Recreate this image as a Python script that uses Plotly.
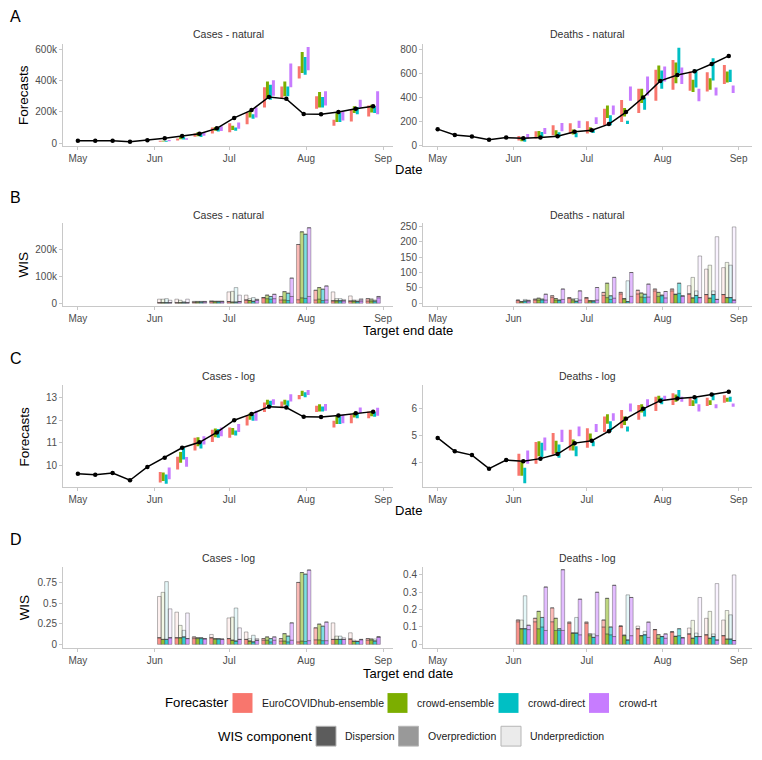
import plotly.graph_objects as go

# ---------------- data ----------------
obs_dates = ["2021-05-01", "2021-05-08", "2021-05-15", "2021-05-22", "2021-05-29",
             "2021-06-05", "2021-06-12", "2021-06-19", "2021-06-26", "2021-07-03",
             "2021-07-10", "2021-07-17", "2021-07-24", "2021-07-31", "2021-08-07",
             "2021-08-14", "2021-08-21", "2021-08-28"]
target_dates = obs_dates[5:]

forecasters = ["EuroCOVIDhub-ensemble", "crowd-ensemble", "crowd-direct", "crowd-rt"]
colors = ["#F8766D", "#7CAE00", "#00BFC4", "#C77CFF"]
rgb = [(248, 118, 109), (124, 174, 0), (0, 191, 196), (199, 124, 255)]

# observed values
obs_cases_k = [15, 15, 15, 10, 19, 31, 46, 61, 95, 162, 212, 296, 284, 187, 185, 200, 221, 237]
obs_deaths = [135, 85, 74, 45, 64, 59, 65, 75, 113, 126, 177, 278, 400, 540, 590, 620, 682, 750]
obs_cases_log = [9.63, 9.58, 9.66, 9.34, 9.93, 10.34, 10.78, 11.02, 11.46, 12.0, 12.28, 12.6,
                 12.56, 12.15, 12.14, 12.21, 12.31, 12.38]
obs_deaths_log = [4.91, 4.42, 4.28, 3.78, 4.10, 4.05, 4.15, 4.32, 4.72, 4.81, 5.16, 5.62,
                  5.98, 6.28, 6.36, 6.41, 6.51, 6.61]

# forecast intervals (lower / upper), cases in thousands
cases_lo_k = {
    "EuroCOVIDhub-ensemble": [10, 18, 42, 62, 70, 122, 229, 289, 414, 221, 111, 139, 171],
    "crowd-ensemble":        [11, 25, 45, 80, 85, 165, 289, 300, 450, 229, 135, 193, 197],
    "crowd-direct":          [10, 24, 40, 75, 80, 156, 279, 300, 439, 229, 135, 186, 193],
    "crowd-rt":              [12, 22, 48, 78, 92, 165, 304, 358, 467, 242, 146, 229, 186],
}
cases_hi_k = {
    "EuroCOVIDhub-ensemble": [16, 30, 62, 100, 128, 197, 358, 364, 493, 300, 150, 214, 242],
    "crowd-ensemble":        [16, 40, 70, 103, 111, 204, 396, 396, 585, 328, 193, 236, 246],
    "crowd-direct":          [15, 40, 65, 100, 100, 186, 375, 364, 553, 296, 193, 232, 236],
    "crowd-rt":              [20, 32, 72, 108, 133, 229, 403, 510, 617, 332, 204, 279, 332],
}
deaths_lo = {
    "EuroCOVIDhub-ensemble": [39, 56, 84, 95, 98, 167, 195, 270, 373, 465, 457, 451, 513],
    "crowd-ensemble":        [33, 61, 75, 89, 111, 228, 242, 354, 535, 521, 446, 465, 527],
    "crowd-direct":          [28, 61, 67, 67, 103, 167, 178, 298, 474, 605, 485, 543, 530],
    "crowd-rt":              [56, 95, 117, 145, 178, 256, 373, 418, 535, 513, 368, 418, 438],
}
deaths_hi = {
    "EuroCOVIDhub-ensemble": [78, 117, 167, 184, 201, 306, 379, 473, 633, 716, 619, 613, 674],
    "crowd-ensemble":        [67, 120, 125, 131, 150, 334, 312, 473, 669, 694, 549, 563, 619],
    "crowd-direct":          [56, 111, 109, 103, 131, 251, 206, 396, 627, 819, 633, 730, 633],
    "crowd-rt":              [95, 145, 187, 206, 234, 334, 493, 577, 660, 652, 474, 485, 502],
}
cases_log_lo = {
    "EuroCOVIDhub-ensemble": [9.24, 9.82, 10.66, 11.04, 11.22, 11.77, 12.36, 12.53, 12.93, 12.36, 11.68, 11.87, 12.09],
    "crowd-ensemble":        [9.31, 10.12, 10.85, 11.24, 11.36, 12.02, 12.68, 12.68, 13.07, 12.39, 11.83, 12.12, 12.17],
    "crowd-direct":          [9.19, 10.26, 10.75, 11.22, 11.32, 11.98, 12.61, 12.61, 13.02, 12.39, 11.83, 12.09, 12.15],
    "crowd-rt":              [9.39, 9.94, 10.92, 11.29, 11.48, 11.98, 12.68, 12.83, 13.12, 12.42, 11.87, 12.31, 12.20],
}
cases_log_hi = {
    "EuroCOVIDhub-ensemble": [9.71, 10.38, 11.22, 11.58, 11.68, 12.20, 12.78, 12.83, 13.12, 12.64, 11.98, 12.24, 12.39],
    "crowd-ensemble":        [9.68, 10.59, 11.24, 11.63, 11.65, 12.31, 12.91, 12.91, 13.31, 12.71, 12.21, 12.34, 12.39],
    "crowd-direct":          [9.60, 10.78, 11.07, 11.61, 11.54, 12.24, 12.86, 12.87, 13.24, 12.61, 12.17, 12.31, 12.36],
    "crowd-rt":              [9.90, 10.37, 11.29, 11.68, 11.83, 12.42, 12.93, 13.15, 13.34, 12.72, 12.24, 12.56, 12.55],
}
deaths_log_lo = {
    "EuroCOVIDhub-ensemble": [3.52, 3.96, 4.30, 4.45, 4.55, 5.13, 5.27, 5.58, 5.90, 6.12, 6.08, 6.08, 6.20],
    "crowd-ensemble":        [3.52, 4.24, 4.36, 4.45, 4.79, 5.43, 5.39, 5.85, 6.24, 6.24, 6.08, 6.12, 6.24],
    "crowd-direct":          [3.25, 4.21, 4.18, 4.24, 4.61, 5.15, 5.15, 5.70, 6.15, 6.36, 6.18, 6.30, 6.24],
    "crowd-rt":              [3.96, 4.45, 4.76, 4.97, 5.13, 5.54, 5.88, 6.06, 6.30, 6.24, 5.88, 6.00, 6.06],
}
deaths_log_hi = {
    "EuroCOVIDhub-ensemble": [4.33, 4.76, 5.09, 5.21, 5.27, 5.70, 5.94, 6.12, 6.42, 6.55, 6.39, 6.39, 6.48],
    "crowd-ensemble":        [4.06, 4.79, 4.81, 4.85, 5.07, 5.78, 5.70, 6.15, 6.46, 6.51, 6.30, 6.30, 6.39],
    "crowd-direct":          [3.82, 4.73, 4.67, 4.61, 4.79, 5.52, 5.33, 6.00, 6.39, 6.67, 6.39, 6.55, 6.42],
    "crowd-rt":              [4.45, 4.93, 5.21, 5.33, 5.42, 5.82, 6.18, 6.33, 6.46, 6.42, 6.15, 6.15, 6.18],
}

# WIS components (dispersion / overprediction / underprediction)
wis_cases_disp_k = {
    "EuroCOVIDhub-ensemble": [2, 2, 4, 6, 6, 12, 20, 12, 13, 12, 9, 8, 8],
    "crowd-ensemble":        [2, 2, 4, 5, 4, 10, 17, 12, 20, 15, 9, 8, 8],
    "crowd-direct":          [2, 2, 4, 5, 4, 7, 15, 10, 18, 10, 9, 6, 6],
    "crowd-rt":              [2, 2, 4, 5, 6, 12, 17, 25, 25, 12, 9, 8, 20],
}
wis_cases_over_k = {
    "EuroCOVIDhub-ensemble": [0, 0, 0, 0, 0, 0, 1, 13, 205, 36, 0, 0, 9],
    "crowd-ensemble":        [0, 0, 1, 2, 0, 0, 13, 31, 245, 43, 0, 0, 5],
    "crowd-direct":          [0, 0, 1, 2, 0, 0, 10, 27, 238, 42, 0, 0, 3],
    "crowd-rt":              [0, 0, 2, 2, 0, 0, 16, 68, 255, 52, 0, 5, 5],
}
wis_cases_under_k = {
    "EuroCOVIDhub-ensemble": [13, 13, 3, 4, 36, 18, 0, 0, 0, 0, 33, 19, 0],
    "crowd-ensemble":        [13, 9, 2, 0, 40, 7, 0, 0, 0, 0, 8, 4, 4],
    "crowd-direct":          [15, 4, 2, 0, 54, 14, 0, 0, 0, 0, 8, 5, 3],
    "crowd-rt":              [9, 13, 1, 0, 24, 3, 0, 0, 0, 0, 5, 4, 0],
}
wis_deaths_disp = {
    "EuroCOVIDhub-ensemble": [8, 10, 18, 15, 16, 25, 30, 30, 40, 40, 30, 28, 28],
    "crowd-ensemble":        [4, 10, 10, 8, 7, 18, 13, 20, 22, 28, 17, 16, 18],
    "crowd-direct":          [7, 10, 8, 6, 5, 12, 5, 18, 24, 32, 25, 28, 18],
    "crowd-rt":              [6, 10, 12, 10, 10, 16, 22, 20, 17, 22, 18, 12, 10],
}
wis_deaths_over = {
    "EuroCOVIDhub-ensemble": [2, 3, 6, 3, 2, 10, 5, 12, 6, 6, 0, 0, 0],
    "crowd-ensemble":        [1, 6, 5, 5, 1, 47, 2, 13, 13, 1, 0, 0, 0],
    "crowd-direct":          [0, 3, 2, 0, 3, 12, 0, 11, 2, 33, 0, 0, 0],
    "crowd-rt":              [3, 19, 34, 30, 41, 68, 78, 42, 21, 2, 0, 0, 0],
}
wis_deaths_under = {
    "EuroCOVIDhub-ensemble": [0, 0, 0, 0, 0, 0, 0, 0, 0, 0, 27, 83, 88],
    "crowd-ensemble":        [0, 0, 0, 0, 0, 0, 0, 0, 0, 0, 67, 108, 115],
    "crowd-direct":          [5, 0, 0, 9, 0, 0, 68, 0, 0, 0, 15, 12, 106],
    "crowd-rt":              [0, 0, 0, 0, 0, 0, 0, 0, 0, 0, 136, 205, 239],
}
wis_cases_log_disp = {
    "EuroCOVIDhub-ensemble": [0.08, 0.08, 0.07, 0.08, 0.07, 0.06, 0.05, 0.04, 0.03, 0.055, 0.06, 0.065, 0.05],
    "crowd-ensemble":        [0.06, 0.08, 0.07, 0.06, 0.05, 0.04, 0.05, 0.04, 0.04, 0.055, 0.06, 0.035, 0.05],
    "crowd-direct":          [0.06, 0.09, 0.07, 0.06, 0.04, 0.03, 0.03, 0.03, 0.035, 0.045, 0.06, 0.035, 0.035],
    "crowd-rt":              [0.08, 0.07, 0.065, 0.06, 0.06, 0.05, 0.05, 0.05, 0.045, 0.045, 0.06, 0.055, 0.09],
}
wis_cases_log_over = {
    "EuroCOVIDhub-ensemble": [0, 0, 0.02, 0, 0, 0, 0.02, 0.03, 0.72, 0.145, 0, 0, 0.02],
    "crowd-ensemble":        [0, 0, 0.01, 0.01, 0, 0, 0.04, 0.09, 0.83, 0.19, 0, 0, 0.015],
    "crowd-direct":          [0, 0, 0.01, 0.01, 0, 0, 0.04, 0.07, 0.815, 0.175, 0, 0, 0.01],
    "crowd-rt":              [0, 0, 0.005, 0.005, 0, 0, 0.04, 0.21, 0.855, 0.225, 0, 0.005, 0],
}
wis_cases_log_under = {
    "EuroCOVIDhub-ensemble": [0.50, 0.31, 0, 0.04, 0.25, 0.09, 0, 0, 0, 0, 0.20, 0.075, 0],
    "crowd-ensemble":        [0.57, 0.15, 0, 0, 0.28, 0.03, 0, 0, 0, 0, 0.04, 0.015, 0],
    "crowd-direct":          [0.70, 0.08, 0, 0, 0.40, 0.08, 0, 0, 0, 0, 0.04, 0.005, 0.02],
    "crowd-rt":              [0.35, 0.31, 0, 0, 0.14, 0.02, 0, 0, 0, 0, 0.02, 0, 0],
}
wis_deaths_log_disp = {
    "EuroCOVIDhub-ensemble": [0.13, 0.13, 0.13, 0.12, 0.12, 0.10, 0.105, 0.09, 0.085, 0.072, 0.06, 0.055, 0.05],
    "crowd-ensemble":        [0.09, 0.09, 0.08, 0.065, 0.05, 0.06, 0.05, 0.05, 0.035, 0.046, 0.035, 0.035, 0.03],
    "crowd-direct":          [0.09, 0.10, 0.08, 0.065, 0.04, 0.055, 0.025, 0.055, 0.045, 0.05, 0.045, 0.045, 0.03],
    "crowd-rt":              [0.085, 0.08, 0.08, 0.055, 0.05, 0.045, 0.05, 0.04, 0.035, 0.038, 0.045, 0.025, 0.022],
}
wis_deaths_log_over = {
    "EuroCOVIDhub-ensemble": [0.01, 0.02, 0.08, 0.008, 0.008, 0.04, 0, 0, 0, 0, 0, 0, 0],
    "crowd-ensemble":        [0, 0.10, 0.07, 0, 0.01, 0.205, 0.003, 0, 0.021, 0, 0, 0, 0],
    "crowd-direct":          [0, 0.055, 0.01, 0, 0, 0.045, 0, 0, 0, 0.04, 0, 0, 0],
    "crowd-rt":              [0.025, 0.25, 0.35, 0.205, 0.25, 0.295, 0.22, 0.088, 0.025, 0, 0, 0, 0],
}
wis_deaths_log_under = {
    "EuroCOVIDhub-ensemble": [0, 0, 0, 0, 0, 0, 0, 0.015, 0, 0, 0.034, 0.095, 0.09],
    "crowd-ensemble":        [0.05, 0, 0, 0, 0, 0, 0, 0, 0, 0, 0.103, 0.155, 0.165],
    "crowd-direct":          [0.19, 0, 0, 0.09, 0.02, 0, 0.26, 0.02, 0.001, 0, 0.02, 0.015, 0.14],
    "crowd-rt":              [0, 0, 0, 0, 0, 0, 0, 0, 0, 0, 0.225, 0.325, 0.378],
}

components = ["Dispersion", "Overprediction", "Underprediction"]
comp_alpha = [0.8, 0.5, 0.1]
comp_key_fill = ["#5c5c5c", "#999999", "#ebebeb"]

K = 1000
DAY = 86400000

# ---------------- figure ----------------
W, H = 762, 760
fig = go.Figure()

def px_x(a, b):
    return [a / W, b / W]

def px_y(top, bottom):
    return [1 - bottom / H, 1 - top / H]

left_x = (63, 393)
right_x = (423, 752)
rows_y = [(42, 145.5), (223, 307), (387, 490), (570, 652)]

FONT = "Liberation Sans, Arial, Helvetica, sans-serif"
axis_col = "#c8c8c8"
tick_font = dict(size=10, color="#4d4d4d", family=FONT)

left_range = ["2021-04-25", "2021-09-05"]
right_range = ["2021-04-25", "2021-09-06 12:00"]

y_cfg = {
    1: dict(range=[-19 * K, 638 * K], tickvals=[0, 200 * K, 400 * K, 600 * K], ticktext=["0", "200k", "400k", "600k"]),
    2: dict(range=[-8, 853], tickvals=[0, 200, 400, 600, 800], ticktext=["0", "200", "400", "600", "800"]),
    3: dict(range=[-11 * K, 298 * K], tickvals=[0, 100 * K, 200 * K], ticktext=["0", "100k", "200k"]),
    4: dict(range=[-10, 262], tickvals=[0, 50, 100, 150, 200, 250], ticktext=["0", "50", "100", "150", "200", "250"]),
    5: dict(range=[9.02, 13.54], tickvals=[10, 11, 12, 13], ticktext=["10", "11", "12", "13"]),
    6: dict(range=[3.09, 6.84], tickvals=[4, 5, 6], ticktext=["4", "5", "6"]),
    7: dict(range=[-0.044, 0.94], tickvals=[0, 0.25, 0.5, 0.75], ticktext=["0", "0.25", "0.5", "0.75"]),
    8: dict(range=[-0.021, 0.447], tickvals=[0, 0.1, 0.2, 0.3, 0.4], ticktext=["0", "0.1", "0.2", "0.3", "0.4"]),
}

layout_axes = {}
for idx in range(1, 9):
    row = (idx - 1) // 2
    col = (idx - 1) % 2
    xs = left_x if col == 0 else right_x
    ys = rows_y[row]
    xname = "xaxis" if idx == 1 else f"xaxis{idx}"
    yname = "yaxis" if idx == 1 else f"yaxis{idx}"
    layout_axes[xname] = dict(
        domain=px_x(*xs), anchor=f"y{idx}" if idx > 1 else "y", type="date",
        range=left_range if col == 0 else right_range,
        tickformat="%b", dtick="M1", tick0="2021-05-01",
        showline=True, linecolor=axis_col, linewidth=1, ticks="outside", ticklen=3,
        tickcolor=axis_col, tickfont=tick_font, showgrid=False, zeroline=False, fixedrange=True,
    )
    cfg = y_cfg[idx]
    layout_axes[yname] = dict(
        domain=px_y(*ys), anchor=f"x{idx}" if idx > 1 else "x", range=cfg["range"],
        tickvals=cfg["tickvals"], ticktext=cfg["ticktext"], tickmode="array",
        showline=True, linecolor=axis_col, linewidth=1, ticks="outside", ticklen=3,
        tickcolor=axis_col, tickfont=tick_font, showgrid=False, zeroline=False, fixedrange=True,
    )

def axref(idx):
    return ("x" if idx == 1 else f"x{idx}", "y" if idx == 1 else f"y{idx}")

FC_W = 1.2 * DAY
WIS_W = 1.45 * DAY

def add_forecast(idx, lo, hi, obs, scale=1):
    xa, ya = axref(idx)
    for i, f in enumerate(forecasters):
        fig.add_trace(go.Bar(
            x=target_dates, base=[v * scale for v in lo[f]],
            y=[(h - l) * scale for l, h in zip(lo[f], hi[f])],
            width=FC_W, offset=-2 * FC_W + i * FC_W,
            marker=dict(color=colors[i], line=dict(width=0)),
            xaxis=xa, yaxis=ya, showlegend=False, hoverinfo="skip"))
    fig.add_trace(go.Scatter(
        x=obs_dates, y=[v * scale for v in obs], mode="lines+markers",
        line=dict(color="black", width=1.5), marker=dict(color="black", size=4.5),
        xaxis=xa, yaxis=ya, showlegend=False, hoverinfo="skip"))

def add_wis(idx, disp, over, under, scale=1):
    xa, ya = axref(idx)
    for i, f in enumerate(forecasters):
        r, g, b = rgb[i]
        parts = [disp[f], over[f], under[f]]
        base = [0.0] * len(target_dates)
        for c, vals in enumerate(parts):
            fig.add_trace(go.Bar(
                x=target_dates, base=[v * scale for v in base], y=[v * scale for v in vals],
                width=WIS_W, offset=-2 * WIS_W + i * WIS_W,
                marker=dict(color=f"rgba({r},{g},{b},{comp_alpha[c]})",
                            line=dict(width=0.5, color="rgba(60,60,60,0.75)")),
                xaxis=xa, yaxis=ya, showlegend=False, hoverinfo="skip"))
            base = [bb + v for bb, v in zip(base, vals)]

add_forecast(1, cases_lo_k, cases_hi_k, obs_cases_k, scale=K)
add_forecast(2, deaths_lo, deaths_hi, obs_deaths)
add_wis(3, wis_cases_disp_k, wis_cases_over_k, wis_cases_under_k, scale=K)
add_wis(4, wis_deaths_disp, wis_deaths_over, wis_deaths_under)
add_forecast(5, cases_log_lo, cases_log_hi, obs_cases_log)
add_forecast(6, deaths_log_lo, deaths_log_hi, obs_deaths_log)
add_wis(7, wis_cases_log_disp, wis_cases_log_over, wis_cases_log_under)
add_wis(8, wis_deaths_log_disp, wis_deaths_log_over, wis_deaths_log_under)

# ---------------- text annotations ----------------
ann = []
def txt(x, y, s, size, color="#1a1a1a", xanchor="center", angle=0):
    ann.append(dict(x=x / W, y=1 - y / H, xref="paper", yref="paper", text=s, showarrow=False,
                    xanchor=xanchor, yanchor="middle", textangle=angle,
                    font=dict(size=size, color=color, family=FONT)))

panel_titles = [("Cases - natural", "Deaths - natural", 32),
                ("Cases - natural", "Deaths - natural", 215),
                ("Cases - log", "Deaths - log", 377),
                ("Cases - log", "Deaths - log", 561)]
for lt, rt, yy in panel_titles:
    txt((left_x[0] + left_x[1]) / 2, yy, lt, 10.5, "#333333")
    txt((right_x[0] + right_x[1]) / 2, yy, rt, 10.5, "#333333")

for letter, yy in [("A", 15), ("B", 197), ("C", 360), ("D", 543)]:
    txt(8, yy, letter, 16, "black", xanchor="left")

for lab, (top, bot) in zip(["Forecasts", "WIS", "Forecasts", "WIS"], rows_y):
    txt(24, (top + bot) / 2, lab, 13.5, "black", angle=-90)

for lab, yy in [("Date", 169), ("Target end date", 332), ("Date", 513.5), ("Target end date", 678)]:
    txt(408, yy, lab, 13, "black")

# ---------------- legend (drawn) ----------------
shapes = []
def key(x0, yc, fill, line_col=None):
    shapes.append(dict(type="rect", xref="paper", yref="paper",
                       x0=x0 / W, x1=(x0 + 20) / W, y0=1 - (yc + 10) / H, y1=1 - (yc - 10) / H,
                       fillcolor=fill, line=dict(width=1 if line_col else 0, color=line_col or fill)))

row1 = 707.5
txt(163, row1, "Forecaster", 13.2, "black", xanchor="left")
key_x1 = [232.5, 387.5, 498.5, 589]
for i, f in enumerate(forecasters):
    key(key_x1[i], row1, colors[i])
    txt(key_x1[i] + 27.5, row1, f, 10.5, "#1a1a1a", xanchor="left")

row2 = 741
txt(215.5, row2, "WIS component", 13.2, "black", xanchor="left")
key_x2 = [316, 398.5, 501]
for c, comp in enumerate(components):
    key(key_x2[c], row2, comp_key_fill[c], "#b5b5b5")
    txt(key_x2[c] + 27, row2, comp, 10.5, "#1a1a1a", xanchor="left")

fig.update_layout(
    width=W, height=H, margin=dict(l=0, r=0, t=0, b=0),
    paper_bgcolor="white", plot_bgcolor="white", barmode="overlay",
    font=dict(family=FONT), showlegend=False,
    annotations=ann, shapes=shapes, **layout_axes,
)

fig.write_html("out.html", config={"displayModeBar": False, "staticPlot": True},
               post_script="document.body.style.margin='0';")
